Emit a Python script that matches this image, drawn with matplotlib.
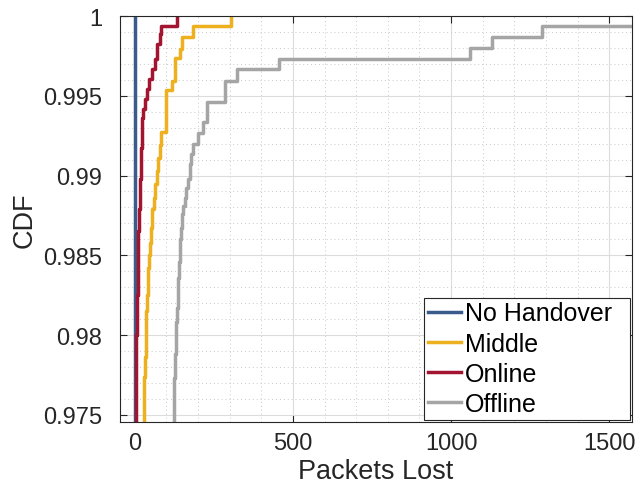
import matplotlib
matplotlib.use("Agg")
import matplotlib.pyplot as plt
from matplotlib.ticker import MultipleLocator

plt.rcParams['font.family'] = ['Liberation Sans', 'DejaVu Sans']

# empirical CDF steps of packets lost per handover strategy
nohand_x = [1, 1]
nohand_cdf = [0.970, 1.0]

middle_x = [26, 29, 32, 34, 36, 38, 40, 42, 44, 48, 51, 55, 60, 65, 69, 74, 79,
            84, 100, 118, 127, 143, 150, 185, 305]
middle_cdf = [0.9740, 0.9774, 0.9786, 0.9796, 0.9815, 0.9825, 0.9834, 0.9842,
              0.9850, 0.9858, 0.9867, 0.9879, 0.9886, 0.9895, 0.9903, 0.9911,
              0.9919, 0.99275, 0.99537, 0.99595, 0.99735, 0.99794, 0.99866,
              0.99936, 1.0]

online_x = [3, 4, 5, 7, 9, 11, 13, 15, 16, 18, 19, 21, 24, 27, 31, 37, 44, 53,
            63, 71, 79, 84, 132]
online_cdf = [0.9740, 0.9770, 0.9800, 0.9825, 0.9848, 0.9865, 0.9879, 0.9890,
              0.9898, 0.9908, 0.9917, 0.9926, 0.9936, 0.9942, 0.99481, 0.99544,
              0.99606, 0.99669, 0.99731, 0.99825, 0.99887, 0.99936, 1.0]

offline_x = [119, 123, 126, 129, 131, 133, 136, 139, 142, 146, 149, 153, 158,
             163, 168, 174, 177, 185, 200, 215, 228, 285, 323, 456, 1060, 1130,
             1288, 1700]
offline_cdf = [0.9740, 0.9773, 0.9788, 0.9798, 0.9808, 0.9817, 0.9836, 0.9846,
               0.9860, 0.9867, 0.9876, 0.9881, 0.9886, 0.9892, 0.9898, 0.9907,
               0.99138, 0.9920, 0.99269, 0.99338, 0.99463, 0.99594, 0.99669,
               0.99731, 0.998, 0.99869, 0.99938, 1.0]

yticks = [0.975, 0.98, 0.985, 0.99, 0.995, 1.0]
ytick_labels = ['0.975', '0.98', '0.985', '0.99', '0.995', '1']
xticks = [0, 500, 1000, 1500]

fig = plt.figure(figsize=(6.36, 4.89), dpi=100)
ax = fig.add_axes([0.1887, 0.135, 0.805, 0.8302])

lw = 2.5
ax.step(nohand_x, nohand_cdf, where='post', color='#3B5B8C', lw=lw, label='No Handover')
ax.step(middle_x, middle_cdf, where='post', color='#EDB120', lw=lw, label='Middle')
ax.step(online_x, online_cdf, where='post', color='#A2142F', lw=lw, label='Online')
ax.step(offline_x, offline_cdf, where='post', color='#A5A5A5', lw=lw, label='Offline')

ax.set_xlim(-47, 1572)
ax.set_ylim(0.97455, 1.0)
ax.set_xticks(xticks)
ax.set_yticks(yticks)
ax.set_yticklabels(ytick_labels)
ax.xaxis.set_minor_locator(MultipleLocator(100))
ax.yaxis.set_minor_locator(MultipleLocator(0.001))

ax.grid(which='major', color='#DCDCDC', lw=0.8, ls='-')
ax.grid(which='minor', color='#C8C8C8', lw=0.7, ls=(0, (1, 3)))
ax.set_axisbelow(True)

ax.tick_params(which='major', direction='in', length=5, width=0.8,
               top=True, right=True, labelsize=17, colors='#262626')
ax.tick_params(axis='y', pad=13)
ax.tick_params(axis='x', pad=7)
ax.tick_params(which='minor', length=0, top=True, right=True)
for s in ax.spines.values():
    s.set_color('#262626')
    s.set_linewidth(0.8)

ax.set_xlabel('Packets Lost', fontsize=19.5, color='#262626', labelpad=3)
ax.set_ylabel('CDF', fontsize=19.5, color='#262626')

leg = ax.legend(loc='lower left', bbox_to_anchor=(0.594, 0.005, 0.402, 0.3),
                mode='expand', fontsize=18, frameon=True, fancybox=False,
                edgecolor='#262626', framealpha=1, borderaxespad=0,
                handlelength=1.32, handletextpad=0.16, labelspacing=0.25,
                borderpad=0.15)
leg.get_frame().set_linewidth(0.8)

plt.savefig("out.png", dpi=100)
